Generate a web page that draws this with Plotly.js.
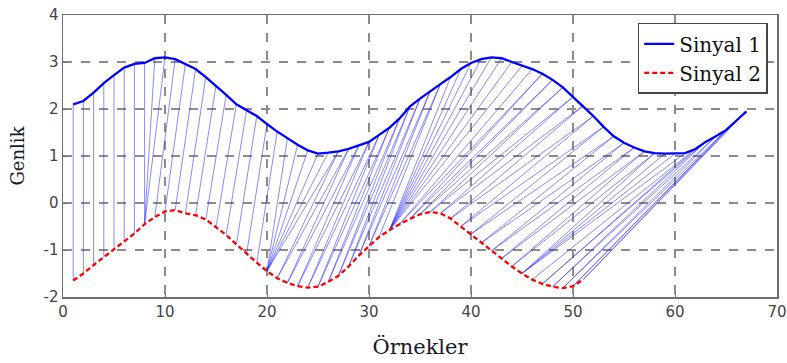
<!DOCTYPE html>
<html>
<head>
<meta charset="utf-8">
<script src="https://cdn.plot.ly/plotly-3.0.1.min.js"></script>
<style>html,body{margin:0;padding:0;background:#fff;}#chart{width:787px;height:363px;}</style>
</head>
<body>
<div id="chart"></div>
<script>
// Sinyal 1 (samples 1..67)
const sinyal1 = [2.10,2.17,2.35,2.55,2.72,2.88,2.96,2.98,3.08,3.10,
  3.06,2.96,2.85,2.68,2.50,2.30,2.10,1.97,1.85,1.68,
  1.52,1.38,1.24,1.12,1.05,1.07,1.10,1.15,1.22,1.30,
  1.45,1.60,1.80,2.05,2.22,2.38,2.53,2.68,2.85,2.98,
  3.06,3.10,3.08,3.00,2.92,2.85,2.75,2.62,2.46,2.26,
  2.07,1.85,1.62,1.42,1.28,1.18,1.10,1.06,1.05,1.05,
  1.06,1.15,1.30,1.42,1.55,1.75,1.95];
// Sinyal 2 (samples 1..51)
const sinyal2 = [-1.65,-1.50,-1.32,-1.15,-0.98,-0.82,-0.65,-0.45,-0.30,-0.18,
  -0.15,-0.22,-0.26,-0.35,-0.52,-0.68,-0.88,-1.08,-1.27,-1.45,
  -1.60,-1.70,-1.77,-1.80,-1.78,-1.68,-1.55,-1.35,-1.12,-0.92,
  -0.72,-0.58,-0.45,-0.34,-0.24,-0.19,-0.22,-0.33,-0.50,-0.66,
  -0.85,-1.02,-1.18,-1.35,-1.50,-1.63,-1.72,-1.78,-1.81,-1.77,
  -1.63];
// Alignment (warping path): sample of Sinyal 1 <-> sample of Sinyal 2
const pathS1 = [1,2,3,4,5,6,7,8,9,10,
  11,12,13,14,15,16,17,18,19,20,21,22,
  23,24,25,26,27,
  27,28,28,29,29,30,30,31,31,32,32,33,33,34,34,35,35,36,36,37,37,
  38,39,40,41,42,43,44,45,
  46,47,
  47,48,48,49,49,50,50,51,51,52,52,53,53,54,54,55,55,56,56,57,57,58,58,59,
  60,61,
  62,62,63,63,64,64,65,65,66,66,67];
const pathS2 = [1,2,3,4,5,6,7,8,8,8,
  9,10,11,12,13,14,15,16,17,18,19,20,
  20,20,20,20,20,
  21,21,22,22,23,23,24,24,25,25,26,26,27,27,28,28,29,29,30,30,31,
  32,32,32,32,32,32,32,32,
  33,33,
  34,34,35,35,36,36,37,37,38,38,39,39,40,40,41,41,42,42,43,43,44,44,45,45,
  45,45,
  46,47,47,48,48,49,49,50,50,51,51];
const seriesNames = ["Sinyal 1", "Sinyal 2"];
const xTicks = [0,10,20,30,40,50,60,70];
const yTicks = [-2,-1,0,1,2,3,4];

const x1 = sinyal1.map((_, i) => i + 1);
const x2 = sinyal2.map((_, i) => i + 1);

const lx = [], ly = [];
pathS1.forEach((a, k) => {
  const b = pathS2[k];
  lx.push(x1[a-1], x2[b-1], null);
  ly.push(sinyal1[a-1], sinyal2[b-1], null);
});

const traces = [
  {x: lx, y: ly, mode: 'lines', type: 'scatter', showlegend: false, hoverinfo: 'skip',
   line: {color: 'rgba(40,40,255,0.55)', width: 1}},
  {x: x1, y: sinyal1, mode: 'lines', type: 'scatter', name: seriesNames[0],
   line: {color: '#0000ff', width: 2.3}},
  {x: x2, y: sinyal2, mode: 'lines', type: 'scatter', name: seriesNames[1],
   line: {color: '#ff0000', width: 2.3, dash: '5px,3px'}}
];

const axisCommon = {
  showgrid: true, gridcolor: '#8c8c8c', griddash: 'dash', gridwidth: 1.3,
  zeroline: false, showline: true, linecolor: '#6e6e6e', linewidth: 1.5, mirror: true,
  ticks: 'inside', ticklen: 4, tickcolor: '#6e6e6e',
  tickfont: {family: 'DejaVu Sans, Arial, sans-serif', size: 15, color: '#444'}
};

const layout = {
  width: 787, height: 363,
  margin: {l: 63, r: 10, t: 15, b: 66},
  paper_bgcolor: '#fff', plot_bgcolor: '#fff',
  xaxis: Object.assign({}, axisCommon, {
    range: [0, 70], tickvals: xTicks, ticktext: xTicks.map(String),
    title: {text: 'Örnekler', font: {family: 'DejaVu Serif, serif', size: 21, color: '#1a1a2a'}, standoff: 20}
  }),
  yaxis: Object.assign({}, axisCommon, {
    range: [-2, 4], tickvals: yTicks, ticktext: yTicks.map(String),
    title: {text: 'Genlik', font: {family: 'DejaVu Serif, serif', size: 18, color: '#1a1a2a'}, standoff: 14}
  }),
  legend: {
    x: 0.987, y: 0.972, xanchor: 'right', yanchor: 'top',
    bgcolor: '#fff', bordercolor: '#444', borderwidth: 1.5,
    font: {family: 'DejaVu Serif, serif', size: 20, color: '#111'},
    tracegroupgap: 0
  },
  showlegend: true
};

Plotly.newPlot('chart', traces, layout, {displayModeBar: false, staticPlot: true});
</script>
</body>
</html>
